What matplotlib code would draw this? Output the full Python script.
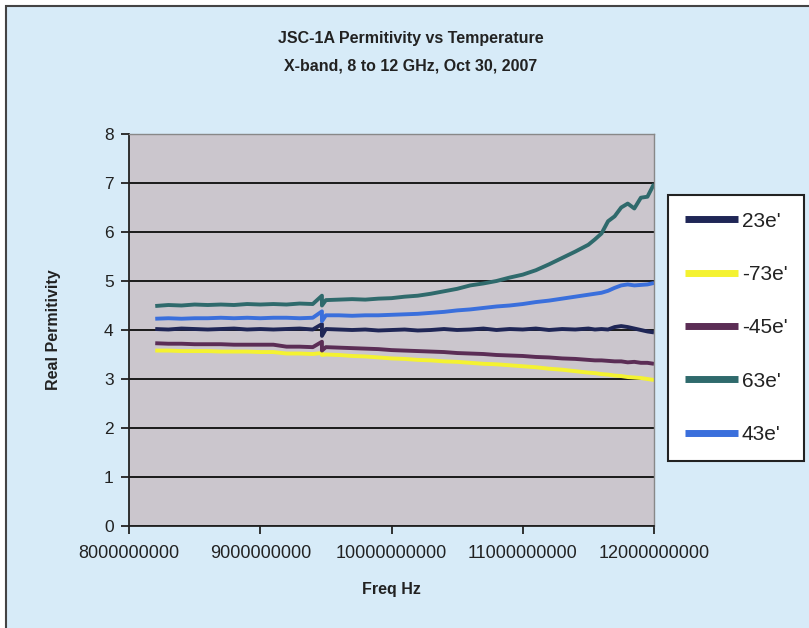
import matplotlib
matplotlib.use('Agg')
import matplotlib.pyplot as plt
from matplotlib.patches import Rectangle

plt.rcParams['font.family'] = ['Liberation Sans', 'DejaVu Sans']

# frequency in GHz (the jump at 9.47 GHz is listed twice for the spike)
freq_ghz = [8.2, 8.3, 8.4, 8.5, 8.6, 8.7, 8.8, 8.9, 9.0, 9.1, 9.2, 9.3, 9.4,
            9.47, 9.47,
            9.5, 9.6, 9.7, 9.8, 9.9, 10.0, 10.1, 10.2, 10.3, 10.4, 10.5, 10.6,
            10.7, 10.8, 10.9, 11.0, 11.1, 11.2, 11.3, 11.4, 11.5,
            11.55, 11.6, 11.65, 11.7, 11.75, 11.8, 11.85, 11.9, 11.95, 12.0]

e23 = [4.02, 4.01, 4.03, 4.02, 4.01, 4.02, 4.03, 4.01, 4.02, 4.01, 4.02, 4.03, 4.01,
       4.12, 3.88,
       4.02, 4.01, 4.00, 4.01, 3.99, 4.00, 4.01, 3.99, 4.00, 4.02, 4.00, 4.01,
       4.03, 4.00, 4.02, 4.01, 4.03, 4.00, 4.02, 4.01, 4.03,
       4.01, 4.02, 4.01, 4.06, 4.08, 4.06, 4.03, 4.00, 3.97, 3.95]

em73 = [3.58, 3.58, 3.57, 3.57, 3.57, 3.56, 3.56, 3.56, 3.55, 3.55, 3.52, 3.52, 3.51,
        3.53, 3.49,
        3.50, 3.49, 3.47, 3.46, 3.44, 3.42, 3.41, 3.39, 3.38, 3.36, 3.35, 3.33,
        3.31, 3.30, 3.28, 3.26, 3.24, 3.21, 3.19, 3.16, 3.13,
        3.12, 3.10, 3.09, 3.07, 3.06, 3.04, 3.03, 3.02, 3.00, 2.98]

em45 = [3.73, 3.72, 3.72, 3.71, 3.71, 3.71, 3.70, 3.70, 3.70, 3.70, 3.66, 3.66, 3.65,
        3.76, 3.58,
        3.65, 3.64, 3.63, 3.62, 3.61, 3.59, 3.58, 3.57, 3.56, 3.55, 3.53, 3.52,
        3.51, 3.49, 3.48, 3.47, 3.45, 3.44, 3.42, 3.41, 3.39,
        3.38, 3.38, 3.37, 3.36, 3.36, 3.34, 3.35, 3.33, 3.33, 3.31]

e63 = [4.49, 4.51, 4.50, 4.52, 4.51, 4.52, 4.51, 4.53, 4.52, 4.53, 4.52, 4.54, 4.53,
       4.70, 4.50,
       4.61, 4.62, 4.63, 4.62, 4.64, 4.65, 4.68, 4.70, 4.74, 4.79, 4.84, 4.91,
       4.95, 5.00, 5.07, 5.13, 5.22, 5.34, 5.47, 5.60, 5.74,
       5.85, 5.97, 6.22, 6.32, 6.50, 6.58, 6.48, 6.70, 6.72, 6.98]

e43 = [4.23, 4.24, 4.23, 4.24, 4.24, 4.25, 4.24, 4.25, 4.24, 4.25, 4.25, 4.24, 4.25,
       4.38, 4.18,
       4.30, 4.30, 4.29, 4.30, 4.30, 4.31, 4.32, 4.33, 4.35, 4.37, 4.40, 4.42,
       4.45, 4.48, 4.50, 4.53, 4.57, 4.60, 4.64, 4.68, 4.72,
       4.74, 4.76, 4.80, 4.86, 4.91, 4.93, 4.91, 4.92, 4.93, 4.96]

series = [("23e'", e23, '#1f2656'),
          ("-73e'", em73, '#f4f231'),
          ("-45e'", em45, '#5b2d55'),
          ("63e'", e63, '#2f6a6c'),
          ("43e'", e43, '#3a6fdc')]

x_ticks = [8000000000, 9000000000, 10000000000, 11000000000, 12000000000]
y_ticks = [0, 1, 2, 3, 4, 5, 6, 7, 8]

freq_hz = [f * 1e9 for f in freq_ghz]

fig = plt.figure(figsize=(8.09, 6.28), dpi=100, facecolor='white')
fig.patches.append(Rectangle((6 / 809, -0.01), 1.1, 1 - 6 / 628 + 0.01,
                             transform=fig.transFigure, facecolor='#d7ebf8',
                             edgecolor='#444444', linewidth=1.5, zorder=-10))

ax = fig.add_axes([129 / 809, 1 - 526 / 628, (654 - 129) / 809, (526 - 134) / 628])
ax.set_facecolor('#cbc6cd')

for label, vals, col in series:
    ax.plot(freq_hz, vals, color=col, linewidth=2.8, label=label, solid_capstyle='butt')

ax.set_xlim(8e9, 12e9)
ax.set_ylim(0, 8)
ax.set_xticks(x_ticks)
ax.set_xticklabels([str(v) for v in x_ticks])
ax.set_yticks(y_ticks)
ax.yaxis.grid(True, color='#1a1a1a', linewidth=1.4)
ax.set_axisbelow(True)

for s in ['left', 'bottom']:
    ax.spines[s].set_color('#222222')
    ax.spines[s].set_linewidth(1.3)
for s in ['top', 'right']:
    ax.spines[s].set_color('#888888')
    ax.spines[s].set_linewidth(1.0)

ax.tick_params(axis='x', direction='out', length=6, width=1.3, labelsize=13,
               colors='#222222', pad=8)
ax.tick_params(axis='y', direction='out', length=6, width=1.3, labelsize=12.5,
               colors='#222222', pad=5)

ax.set_xlabel('Freq Hz', fontsize=11.5, fontweight='bold', color='#222222', labelpad=14)
ax.set_ylabel('Real Permitivity', fontsize=11.5, fontweight='bold', color='#222222', labelpad=31)

fig.text(411 / 809, 1 - 38 / 628, 'JSC-1A Permitivity vs Temperature', ha='center',
         va='center', fontsize=11.5, fontweight='bold', color='#222222')
fig.text(411 / 809, 1 - 66 / 628, 'X-band, 8 to 12 GHz, Oct 30, 2007', ha='center',
         va='center', fontsize=11.5, fontweight='bold', color='#222222')

leg = fig.legend(loc='upper left', bbox_to_anchor=(668 / 809, 1 - 195 / 628),
                 fontsize=15, handlelength=2.55, handletextpad=0.2,
                 labelspacing=1.65, borderpad=0.8, fancybox=False, framealpha=1,
                 edgecolor='#222222', facecolor='white', borderaxespad=0)
leg.get_frame().set_linewidth(1.5)
for line in leg.get_lines():
    line.set_linewidth(5)
for t in leg.get_texts():
    t.set_color('#222222')

fig.savefig('out.png', dpi=100, facecolor=fig.get_facecolor())
